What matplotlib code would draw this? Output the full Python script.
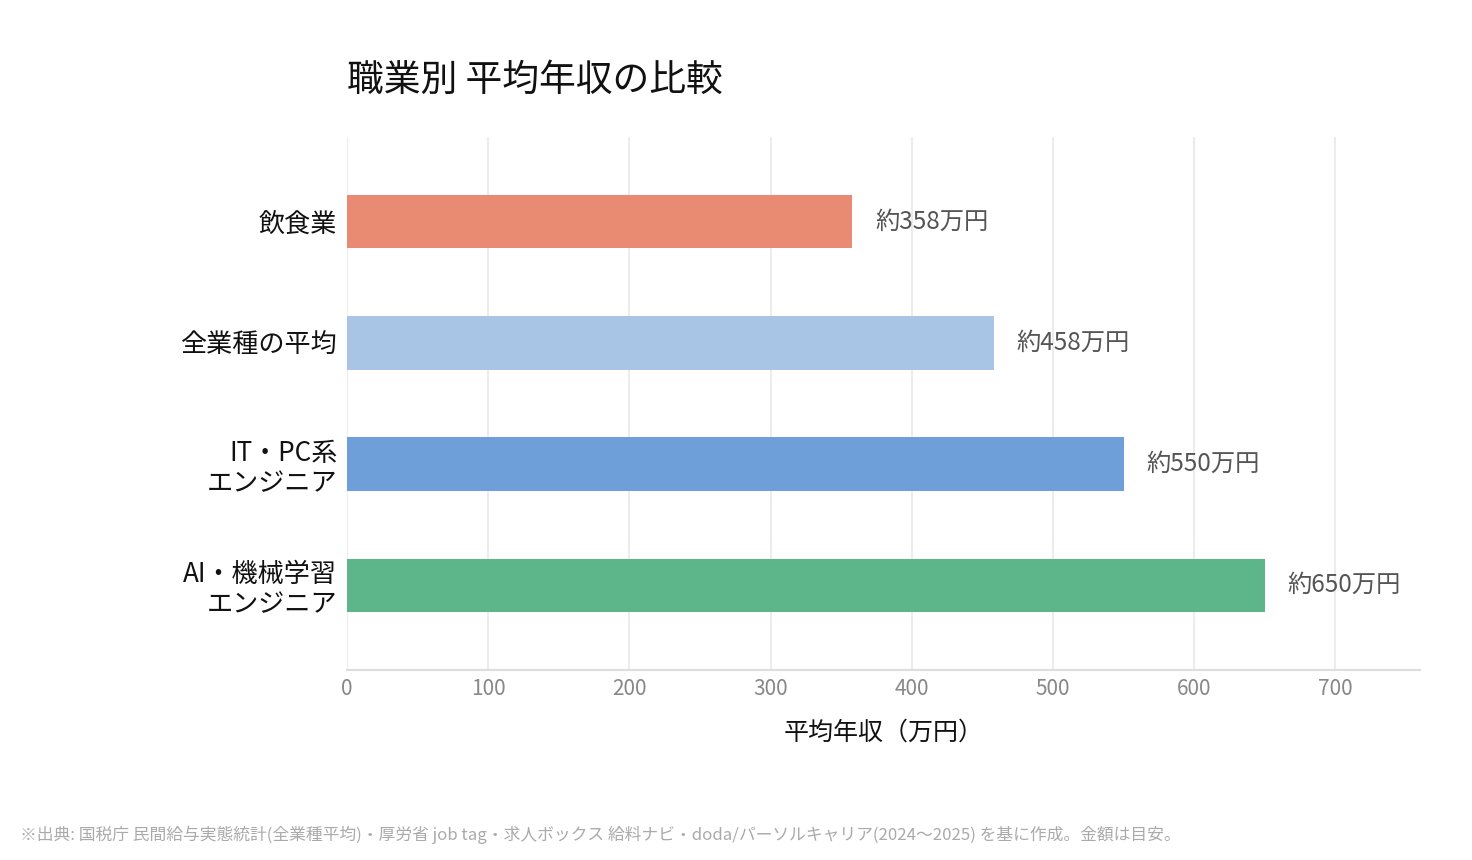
import matplotlib
matplotlib.use("Agg")
import matplotlib.pyplot as plt

plt.rcParams['font.family'] = ['Noto Sans CJK JP', 'DejaVu Sans']

categories = ["飲食業", "全業種の平均", "IT・PC系\nエンジニア", "AI・機械学習\nエンジニア"]
values = [358, 458, 550, 650]
value_labels = ["約358万円", "約458万円", "約550万円", "約650万円"]
colors = ["#E98A72", "#A9C5E5", "#6F9FD8", "#5DB58A"]
xticks = [0, 100, 200, 300, 400, 500, 600, 700]

fig = plt.figure(figsize=(14.72, 8.6), dpi=100)
ax = fig.add_axes([347/1472, 1-670/860, (1420-347)/1472, (670-137)/860])

y = list(range(len(categories)))
ax.barh(y, values, height=0.44, color=colors, zorder=3)
for yi, v, lab in zip(y, values, value_labels):
    ax.annotate(lab, (v, yi), xytext=(23, 0), textcoords='offset pixels',
                va='center', ha='left', fontsize=17.5, color='#555555')

ax.set_ylim(3.7, -0.7)
ax.set_xlim(0, 760)
ax.set_yticks(y)
ax.set_yticklabels(categories, fontsize=18.8, color='#111111', linespacing=1.15)
ax.set_xticks(xticks)
ax.set_xticklabels([str(t) for t in xticks], fontsize=15, color='#888888')
ax.tick_params(axis='y', length=0, pad=7)
ax.tick_params(axis='x', length=0, pad=6)
ax.grid(axis='x', color='#ececec', linewidth=1.5, zorder=0)
for s in ['top', 'right']:
    ax.spines[s].set_visible(False)
ax.spines['left'].set_color('#eeeeee')
ax.spines['bottom'].set_color('#dddddd')
ax.spines['bottom'].set_linewidth(1.5)
ax.set_xlabel("平均年収（万円）", fontsize=18, color='#111111', labelpad=14)

fig.text(347/1472, 1-80/860, "職業別 平均年収の比較", fontsize=26.5, color='#111111',
         ha='left', va='center')
fig.text(20/1472, 1-835/860,
         "※出典: 国税庁 民間給与実態統計(全業種平均)・厚労省 job tag・求人ボックス 給料ナビ・doda/パーソルキャリア(2024〜2025) を基に作成。金額は目安。",
         fontsize=12.1, color='#aaaaaa', ha='left', va='center')

fig.savefig("out.png", dpi=100)
